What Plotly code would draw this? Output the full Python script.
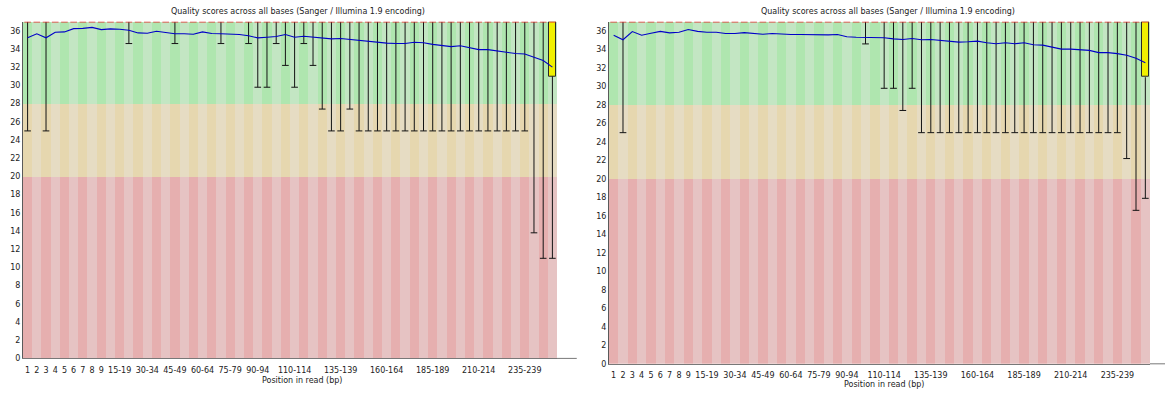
import plotly.graph_objects as go

# Base-position groups (first nine bases individually, then 5 bp bins)
groups = [
    "1", "2", "3", "4", "5", "6", "7", "8", "9",
    "10-14", "15-19", "20-24", "25-29", "30-34", "35-39", "40-44", "45-49",
    "50-54", "55-59", "60-64", "65-69", "70-74", "75-79", "80-84", "85-89",
    "90-94", "95-99", "100-104", "105-109", "110-114", "115-119", "120-124",
    "125-129", "130-134", "135-139", "140-144", "145-149", "150-154",
    "155-159", "160-164", "165-169", "170-174", "175-179", "180-184",
    "185-189", "190-194", "195-199", "200-204", "205-209", "210-214",
    "215-219", "220-224", "225-229", "230-234", "235-239", "240-244",
    "245-249", "250-251",
]

tick_labels = ["1", "2", "3", "4", "5", "6", "7", "8", "9", "15-19", "30-34",
               "45-49", "60-64", "75-79", "90-94", "110-114", "135-139",
               "160-164", "185-189", "210-214", "235-239"]

# ---- Read 1 ----
r1_mean = [35.23, 35.67, 35.23, 35.84, 35.88, 36.24, 36.27, 36.38, 36.13, 36.21,
           36.17, 36.06, 35.77, 35.73, 35.95, 35.81, 35.67, 35.67, 35.62, 35.88,
           35.70, 35.67, 35.67, 35.59, 35.45, 35.23, 35.30, 35.37, 35.59, 35.29,
           35.41, 35.34, 35.23, 35.12, 35.16, 35.05, 34.97, 34.80, 34.75, 34.65,
           34.61, 34.61, 34.75, 34.69, 34.51, 34.40, 34.26, 34.36, 34.15, 33.93,
           33.93, 33.78, 33.71, 33.50, 33.45, 33.09, 32.74, 32.01]
r1_p10 = [25, 37, 25, 37, 37, 37, 37, 37, 37, 37,
          37, 34.6, 37, 37, 37, 37, 34.6, 37, 37, 37,
          37, 34.6, 37, 37, 34.6, 29.8, 29.8, 34.6, 32.2, 29.8,
          34.6, 32.2, 27.4, 25, 25, 27.4, 25, 25, 25, 25,
          25, 25, 25, 25, 25, 25, 25, 25, 25, 25,
          25, 25, 25, 25, 25, 13.8, 11, 11]
r1_lq = [37, 37, 37, 37, 37, 37, 37, 37, 37, 37,
         37, 37, 37, 37, 37, 37, 37, 37, 37, 37,
         37, 37, 37, 37, 37, 37, 37, 37, 37, 37,
         37, 37, 37, 37, 37, 37, 37, 37, 37, 37,
         37, 37, 37, 37, 37, 37, 37, 37, 37, 37,
         37, 37, 37, 37, 37, 37, 37, 31]
r1_median = [37] * 58
r1_uq = [37] * 58

# ---- Read 2 ----
r2_mean = [35.54, 35.05, 35.93, 35.54, 35.75, 35.96, 35.79, 35.86, 36.15, 35.96,
           35.86, 35.86, 35.72, 35.72, 35.82, 35.75, 35.64, 35.72, 35.64, 35.61,
           35.61, 35.58, 35.54, 35.58, 35.61, 35.37, 35.32, 35.32, 35.32, 35.26,
           35.15, 35.08, 35.18, 35.05, 35.08, 34.97, 34.94, 34.79, 34.83, 34.90,
           34.72, 34.62, 34.72, 34.62, 34.72, 34.51, 34.47, 34.22, 34.04, 34.04,
           33.98, 33.90, 33.66, 33.66, 33.55, 33.37, 33.05, 32.55]
r2_p10 = [37, 25, 37, 37, 37, 37, 37, 37, 37, 37,
          37, 37, 37, 37, 37, 37, 37, 37, 37, 37,
          37, 37, 37, 37, 37, 37, 37, 34.6, 37, 29.8,
          29.8, 27.4, 29.8, 25, 25, 25, 25, 25, 25, 25,
          25, 25, 25, 25, 25, 25, 25, 25, 25, 25,
          25, 25, 25, 25, 25, 22.2, 16.6, 17.9]
r2_lq = [37, 37, 37, 37, 37, 37, 37, 37, 37, 37,
         37, 37, 37, 37, 37, 37, 37, 37, 37, 37,
         37, 37, 37, 37, 37, 37, 37, 37, 37, 37,
         37, 37, 37, 37, 37, 37, 37, 37, 37, 37,
         37, 37, 37, 37, 37, 37, 37, 37, 37, 37,
         37, 37, 37, 37, 37, 37, 37, 31]
r2_median = [37] * 58
r2_uq = [37] * 58

# Quality zones: (low, high, dark colour, light colour)
zones = [
    (0, 20, "rgb(230,175,175)", "rgb(230,195,195)"),
    (20, 28, "rgb(230,215,175)", "rgb(230,220,195)"),
    (28, 37, "rgb(175,230,175)", "rgb(195,230,195)"),
]
Y_MAX = 37
TITLE = "Quality scores across all bases (Sanger / Illumina 1.9 encoding)"
FONT = "DejaVu Sans"
W, H = 1165, 394

fig = go.Figure()
idx = list(range(len(groups)))
half = 0.36


def add_panel(xa, ya, mean, p10, lq, median, uq):
    # alternating background stripes per quality zone
    for lo, hi, dark, light in zones:
        fig.add_trace(go.Bar(
            x=idx, y=[hi - lo] * len(idx), base=lo, width=1,
            marker=dict(color=[dark if i % 2 == 0 else light for i in idx],
                        line=dict(width=0)),
            xaxis=xa, yaxis=ya, hoverinfo="skip", showlegend=False))
    # lower whiskers with caps
    wx, wy = [], []
    for i in idx:
        if p10[i] < lq[i]:
            wx += [i, i, None, i - half, i + half, None]
            wy += [p10[i], lq[i], None, p10[i], p10[i], None]
    fig.add_trace(go.Scatter(x=wx, y=wy, mode="lines",
                             line=dict(color="rgb(20,20,20)", width=1),
                             xaxis=xa, yaxis=ya, hoverinfo="skip",
                             showlegend=False))
    # inter-quartile boxes
    bx = [i for i in idx if uq[i] > lq[i]]
    fig.add_trace(go.Bar(
        x=bx, y=[uq[i] - lq[i] for i in bx], base=[lq[i] for i in bx],
        width=2 * half,
        marker=dict(color="rgb(240,240,0)",
                    line=dict(color="rgb(40,40,40)", width=1)),
        xaxis=xa, yaxis=ya, hoverinfo="skip", showlegend=False))
    # medians
    mx, my = [], []
    for i in idx:
        mx += [i - half, i + half, None]
        my += [median[i], median[i], None]
    fig.add_trace(go.Scatter(x=mx, y=my, mode="lines",
                             line=dict(color="rgb(225,45,45)", width=1.6),
                             xaxis=xa, yaxis=ya, hoverinfo="skip",
                             showlegend=False, cliponaxis=False))
    # mean quality
    fig.add_trace(go.Scatter(x=idx, y=mean, mode="lines",
                             line=dict(color="rgb(0,0,200)", width=1.1),
                             xaxis=xa, yaxis=ya, hoverinfo="skip",
                             showlegend=False))


add_panel("x", "y", r1_mean, r1_p10, r1_lq, r1_median, r1_uq)
add_panel("x2", "y2", r2_mean, r2_p10, r2_lq, r2_median, r2_uq)

tickvals = [groups.index(t) for t in tick_labels]
xcommon = dict(range=[-0.5, len(groups) - 0.5], tickvals=tickvals,
               ticktext=tick_labels, ticks="", showgrid=False, zeroline=False,
               showline=True, linecolor="rgb(120,120,120)", linewidth=1,
               tickfont=dict(family=FONT, size=8, color="#222"),
               fixedrange=True)
ycommon = dict(range=[0, Y_MAX], tickvals=list(range(0, 37, 2)), ticks="",
               showgrid=False, zeroline=False, showline=True,
               linecolor="rgb(90,90,90)", linewidth=1,
               tickfont=dict(family=FONT, size=8, color="#222"),
               fixedrange=True)


def label(text, xpx, ypx):
    return dict(text=text, x=xpx / W, y=1 - ypx / H, xref="paper",
                yref="paper", xanchor="center", yanchor="middle",
                showarrow=False, font=dict(family=FONT, size=8, color="#222"))


fig.update_layout(
    width=W, height=H,
    margin=dict(l=0, r=0, t=0, b=0),
    paper_bgcolor="white", plot_bgcolor="white",
    barmode="overlay", bargap=0,
    xaxis=dict(domain=[23 / W, 557 / W], anchor="y", ticklabelstandoff=4,
               **xcommon),
    yaxis=dict(domain=[1 - 363 / H, 1 - 22 / H], anchor="x", **ycommon),
    xaxis2=dict(domain=[609 / W, 1150 / W], anchor="y2", ticklabelstandoff=4,
                **xcommon),
    yaxis2=dict(domain=[1 - 368.5 / H, 1 - 22 / H], anchor="x2", **ycommon),
    annotations=[
        label(TITLE, 298, 12),
        label(TITLE, 888, 12),
        label("Position in read (bp)", 302, 385),
        label("Position in read (bp)", 884, 389),
    ],
    shapes=[
        # x axis baseline runs a little past the plotting area
        dict(type="line", xref="x domain", yref="y domain", x0=1, x1=1.037,
             y0=0, y1=0, line=dict(color="rgb(120,120,120)", width=1)),
        dict(type="line", xref="x2 domain", yref="y2 domain", x0=1, x1=1.03,
             y0=0, y1=0, line=dict(color="rgb(120,120,120)", width=1)),
    ],
)

fig.write_html("out.html", config={"displayModeBar": False})
